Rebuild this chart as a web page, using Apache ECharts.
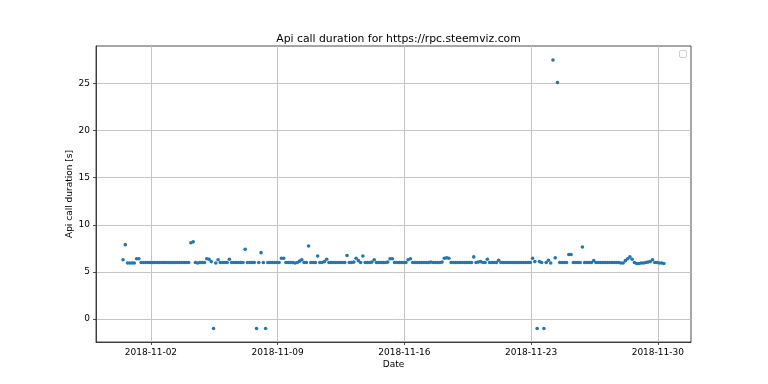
<!DOCTYPE html>
<html><head><meta charset="utf-8">
<script src="https://cdn.jsdelivr.net/npm/echarts@6/dist/echarts.min.js"></script>
<style>html,body{margin:0;padding:0;background:#fff}#c{width:768px;height:384px}</style>
</head><body><div id="c"></div>
<script>
// Sampling: one call every 3 hours starting at this time
const startTime = '2018-10-31T11:00:00';
const stepHours = 3;
// Api call durations [s]
const durations = [
  6.3, 7.9, 5.95, 5.95, 5.95, 5.95, 6.4, 6.4, 6.0, 6.0,
  6.0, 6.0, 6.0, 6.0, 6.0, 6.0, 6.0, 6.0, 6.0, 6.0,
  6.0, 6.0, 6.0, 6.0, 6.0, 6.0, 6.0, 6.0, 6.0, 6.0,
  8.1, 8.2, 6.0, 5.95, 6.0, 6.0, 6.0, 6.4, 6.35, 6.1,
  -1, 5.95, 6.3, 6.0, 6.0, 6.0, 6.0, 6.35, 6.0, 6.0,
  6.0, 6.0, 6.0, 6.0, 7.4, 6.0, 6.0, 6.0, 6.0, -1,
  6.0, 7.05, 6.0, -1, 6.0, 6.0, 6.0, 6.0, 6.0, 6.0,
  6.45, 6.45, 6.0, 6.0, 6.0, 6.0, 5.95, 6.0, 6.15, 6.3,
  6.0, 6.0, 7.75, 6.0, 6.0, 6.0, 6.7, 6.0, 6.0, 6.1,
  6.35, 6.0, 6.0, 6.0, 6.0, 6.0, 6.0, 6.0, 6.0, 6.75,
  6.0, 6.0, 6.05, 6.45, 6.2, 6.0, 6.7, 6.0, 6.0, 6.0,
  6.05, 6.3, 6.0, 6.0, 6.0, 6.0, 6.0, 6.05, 6.4, 6.4,
  6.0, 6.0, 6.0, 6.0, 6.0, 6.0, 6.3, 6.4, 6.0, 6.0,
  6.0, 6.0, 6.0, 6.0, 6.0, 6.0, 6.05, 6.0, 6.0, 6.0,
  6.0, 6.05, 6.45, 6.5, 6.45, 6.0, 6.0, 6.0, 6.0, 6.0,
  6.0, 6.0, 6.0, 6.0, 6.0, 6.6, 6.0, 6.05, 6.1, 6.0,
  6.0, 6.35, 6.0, 6.0, 6.0, 6.0, 6.25, 6.0, 6.0, 6.0,
  6.0, 6.0, 6.0, 6.0, 6.0, 6.0, 6.0, 6.0, 6.0, 6.0,
  6.0, 6.45, 6.1, -1, 6.1, 6.0, -1, 6.0, 6.25, 5.95,
  27.5, 6.5, 25.1, 6.0, 6.0, 6.0, 6.0, 6.85, 6.85, 6.0,
  6.0, 6.0, 6.0, 7.65, 6.0, 6.0, 6.0, 6.0, 6.2, 6.0,
  6.0, 6.0, 6.0, 6.0, 6.0, 6.0, 6.0, 6.0, 6.0, 6.0,
  5.95, 5.95, 6.2, 6.4, 6.6, 6.35, 6.0, 5.9, 5.9, 5.95,
  5.95, 6.0, 6.05, 6.1, 6.3, 6.0, 6.0, 5.95, 5.95, 5.9
];
const xTickLabels = ['2018-11-02', '2018-11-09', '2018-11-16', '2018-11-23', '2018-11-30'];
const yTickValues = [0, 5, 10, 15, 20, 25];
const xMin = '2018-10-29T23:10:00';
const xMax = '2018-12-01T20:00:00';
const yMin = -2.43;
const yMax = 28.98;

const t0 = new Date(startTime).getTime();
const points = durations.map((v, i) => [t0 + i * stepHours * 3600000, v]);
const xTickValues = xTickLabels.map(s => new Date(s + 'T00:00:00').getTime());
const pad = n => (n < 10 ? '0' : '') + n;
const fmtDate = v => { const d = new Date(v); return d.getFullYear() + '-' + pad(d.getMonth() + 1) + '-' + pad(d.getDate()); };

const FONT = 'DejaVu Sans';
const chart = echarts.init(document.getElementById('c'), null, { renderer: 'canvas' });
chart.setOption({
  animation: false,
  backgroundColor: '#fff',
  title: {
    text: 'Api call duration for https://rpc.steemviz.com',
    left: 393.5, top: 29, textAlign: 'center',
    textStyle: { fontFamily: FONT, fontSize: 10.8, fontWeight: 'normal', color: '#000' }
  },
  grid: { left: 96, right: 77, top: 46, bottom: 42, show: true, borderColor: '#222', borderWidth: 0.8, backgroundColor: 'transparent' },
  xAxis: {
    type: 'value', scale: true,
    min: new Date(xMin).getTime(), max: new Date(xMax).getTime(),
    name: 'Date', nameLocation: 'middle', nameGap: 18, nameMoveOverlap: false,
    nameTextStyle: { fontFamily: FONT, fontSize: 9, color: '#000' },
    axisLine: { show: true, onZero: false, lineStyle: { color: '#222', width: 0.8 } },
    axisTick: { show: true, inside: false, length: 3, customValues: xTickValues, lineStyle: { color: '#222', width: 0.8 } },
    axisLabel: { customValues: xTickValues, formatter: v => fmtDate(v), margin: 6, fontFamily: FONT, fontSize: 9, color: '#000', hideOverlap: false, showMinLabel: true, showMaxLabel: true },
    splitLine: { show: true, lineStyle: { color: '#c4c4c4', width: 1 } }
  },
  yAxis: {
    type: 'value', min: yMin, max: yMax,
    name: 'Api call duration [s]', nameLocation: 'middle', nameGap: 22, nameRotate: 90, nameMoveOverlap: false,
    nameTextStyle: { fontFamily: FONT, fontSize: 9, color: '#000' },
    axisLine: { show: true, onZero: false, lineStyle: { color: '#222', width: 0.8 } },
    axisTick: { show: true, inside: false, length: 3, customValues: yTickValues, lineStyle: { color: '#222', width: 0.8 } },
    axisLabel: { customValues: yTickValues, margin: 6, fontFamily: FONT, fontSize: 9, color: '#000' },
    splitLine: { show: true, lineStyle: { color: '#c4c4c4', width: 1 } }
  },
  graphic: [{
    type: 'rect', shape: { x: 679.5, y: 50.5, width: 7, height: 7, r: 1.5 },
    style: { fill: '#fff', stroke: '#d0d0d0', lineWidth: 1 }, z: 10
  }],
  series: [{
    type: 'scatter', data: points, symbol: 'circle', symbolSize: 3.6,
    itemStyle: { color: '#1f77b4', opacity: 1 }, z: 5
  }]
});
</script></body></html>
